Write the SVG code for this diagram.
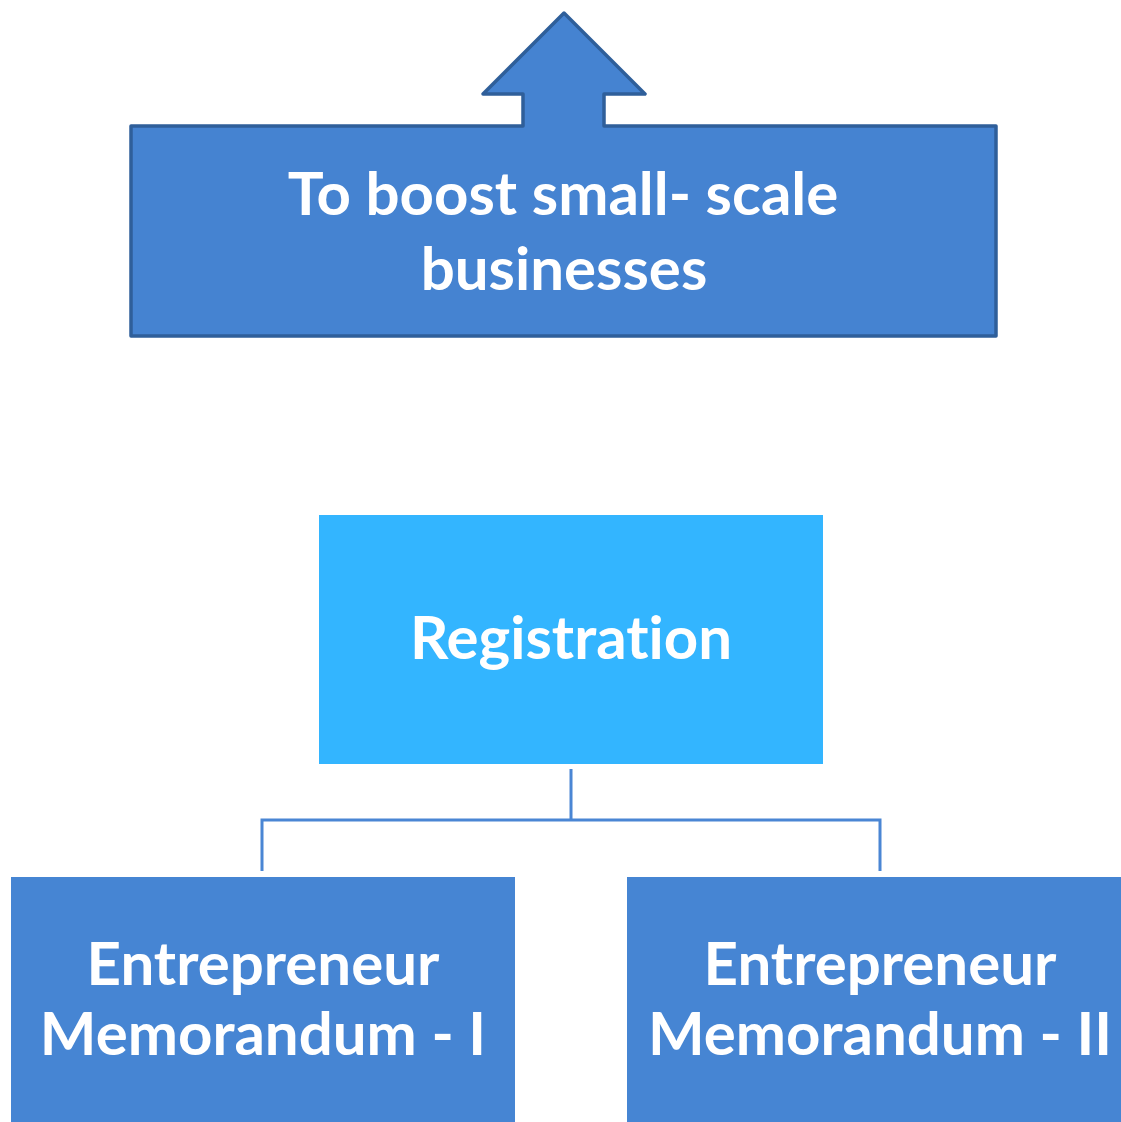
<svg xmlns="http://www.w3.org/2000/svg" width="1121" height="1122" viewBox="0 0 1121 1122">
  <style>
    .lbl { font-family: Lato, "Open Sans", "Liberation Sans", sans-serif; font-weight: 700; fill: #ffffff; text-anchor: middle; font-variant-ligatures: none; }
    .big { font-size: 60px; }
    .link { fill: none; stroke: #4a86d4; stroke-width: 3; }
  </style>
  <rect width="1121" height="1122" fill="#ffffff"/>

  <!-- goal callout with upward arrow -->
  <g id="goal">
    <path d="M131,126 H523 V94 H483 L564,13 L645,94 H604 V126 H996 V336 H131 Z"
          fill="#4583d1" stroke="#2f5f9a" stroke-width="3.5" stroke-linejoin="round"/>
    <text class="lbl big" x="563" y="215">To boost small- scale</text>
    <text class="lbl big" x="564" y="290">businesses</text>
  </g>

  <g id="registration">
    <rect x="319" y="515" width="504" height="249" fill="#33b5ff"/>
    <text class="lbl big" x="571" y="659">Registration</text>
  </g>

  <g id="connectors">
    <path class="link" d="M571,769 V820 M262,871 V820 H880 V871"/>
  </g>

  <g id="em1">
    <rect x="11" y="877" width="504" height="250" fill="#4685d3"/>
    <text class="lbl big" x="263" y="985">Entrepreneur</text>
    <text class="lbl big" x="263" y="1055">Memorandum - I</text>
  </g>

  <g id="em2">
    <rect x="627" y="877" width="504" height="250" fill="#4685d3"/>
    <text class="lbl big" x="880" y="985">Entrepreneur</text>
    <text class="lbl big" x="880" y="1055">Memorandum - II</text>
  </g>
</svg>
